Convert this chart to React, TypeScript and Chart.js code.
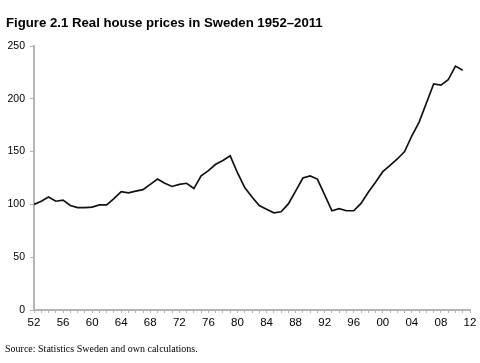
import React, { useEffect, useRef } from "react";
import { Chart, registerables } from "chart.js";

Chart.register(...registerables);

const years: number[] = [
  1952, 1953, 1954, 1955, 1956, 1957, 1958, 1959, 1960, 1961,
  1962, 1963, 1964, 1965, 1966, 1967, 1968, 1969, 1970, 1971,
  1972, 1973, 1974, 1975, 1976, 1977, 1978, 1979, 1980, 1981,
  1982, 1983, 1984, 1985, 1986, 1987, 1988, 1989, 1990, 1991,
  1992, 1993, 1994, 1995, 1996, 1997, 1998, 1999, 2000, 2001,
  2002, 2003, 2004, 2005, 2006, 2007, 2008, 2009, 2010, 2011,
];

const prices: number[] = [
  100, 103, 107, 103, 104, 99, 97, 97, 97.5, 99.5,
  99.5, 105.5, 112, 111, 112.5, 114, 119, 124, 120, 117,
  119, 120, 115, 127, 132, 138, 141.5, 146, 130, 116,
  107, 99, 95.5, 92, 93, 100.5, 112.5, 125, 127, 124,
  109, 94, 96, 94, 94, 101, 111.5, 121, 131, 137,
  143, 150, 165, 178, 196, 214, 213, 218, 231, 227,
];

const yTicks: number[] = [0, 50, 100, 150, 200, 250];
const xMin = 1952;
const xMax = 2012;

const titleText = "Figure 2.1 Real house prices in Sweden 1952\u20132011";
const sourceText = "Source: Statistics Sweden and own calculations.";

export default function App() {
  const canvasRef = useRef<HTMLCanvasElement | null>(null);

  useEffect(() => {
    if (!canvasRef.current) return;
    const axisGray = "#b4b4b4";
    const chart = new Chart(canvasRef.current, {
      type: "line",
      data: {
        datasets: [
          {
            data: years.map((y, i) => ({ x: y, y: prices[i] })),
            borderColor: "#111111",
            borderWidth: 1.7,
            pointRadius: 0,
            tension: 0,
            fill: false,
          },
        ],
      },
      options: {
        animation: false,
        responsive: false,
        maintainAspectRatio: false,
        layout: { padding: { left: 0, top: 46, right: 10, bottom: 0 } },
        plugins: {
          legend: { display: false },
          tooltip: { enabled: false },
          title: { display: false },
        },
        scales: {
          x: {
            type: "linear",
            min: xMin,
            max: xMax,
            afterFit: (s: any) => {
              s.height = 53;
              s.paddingRight = 0;
            },
            afterBuildTicks: (s: any) => {
              const t = [];
              for (let v = xMin; v <= xMax; v++) t.push({ value: v });
              s.ticks = t;
            },
            ticks: {
              autoSkip: false,
              maxRotation: 0,
              padding: 3,
              color: "#000",
              font: { family: "Liberation Sans, Arial, sans-serif", size: 11.5 },
              callback: (v: any) => {
                const n = Number(v);
                return n % 4 === 0 ? String(n % 100).padStart(2, "0") : "";
              },
            },
            grid: {
              display: true,
              drawOnChartArea: false,
              drawTicks: true,
              tickLength: 3,
              color: axisGray,
              lineWidth: 1,
            },
            border: { display: true, color: axisGray, width: 2 },
          },
          y: {
            type: "linear",
            min: 0,
            max: 250,
            afterFit: (s: any) => {
              s.width = 34;
            },
            afterBuildTicks: (s: any) => {
              s.ticks = yTicks.map((v) => ({ value: v }));
            },
            ticks: {
              padding: 5,
              color: "#000",
              font: { family: "Liberation Sans, Arial, sans-serif", size: 10.5 },
            },
            grid: {
              display: true,
              drawOnChartArea: false,
              drawTicks: true,
              tickLength: 4,
              color: axisGray,
              lineWidth: 1,
            },
            border: { display: true, color: axisGray, width: 2 },
          },
        },
      },
    });
    return () => chart.destroy();
  }, []);

  return (
    <div
      style={{
        position: "fixed",
        left: 0,
        top: 0,
        width: 480,
        height: 363,
        background: "#fff",
        overflow: "hidden",
      }}
    >
      <canvas
        ref={canvasRef}
        width={480}
        height={363}
        style={{ position: "absolute", left: 0, top: 0, width: 480, height: 363 }}
      />
      <div
        style={{
          position: "absolute",
          left: 6,
          top: 15,
          fontFamily: "Liberation Sans, Arial, sans-serif",
          fontWeight: "bold",
          fontSize: 13.2,
          color: "#000",
          whiteSpace: "nowrap",
          lineHeight: "16px",
        }}
      >
        {titleText}
      </div>
      <div
        style={{
          position: "absolute",
          left: 5,
          top: 342,
          fontFamily: "Liberation Serif, Times New Roman, serif",
          fontSize: 10,
          color: "#000",
          whiteSpace: "nowrap",
          lineHeight: "13px",
        }}
      >
        {sourceText}
      </div>
    </div>
  );
}
